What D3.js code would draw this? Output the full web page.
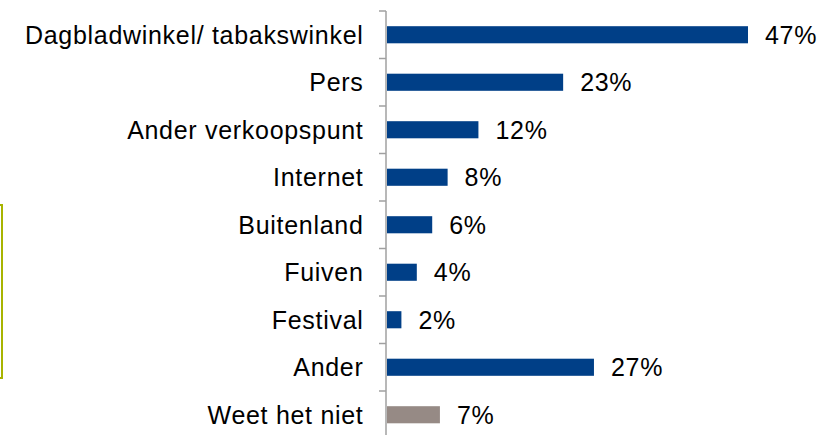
<!DOCTYPE html>
<html>
<head>
<meta charset="utf-8">
<script src="https://cdn.jsdelivr.net/npm/d3@7"></script>
<style>
  body { margin: 0; background: #fff; }
  text { font-family: "Liberation Sans", Arial, sans-serif; }
</style>
</head>
<body>
<div id="chart"></div>
<script>
// categories and values (percent)
var categories = ["Dagbladwinkel/ tabakswinkel", "Pers", "Ander verkoopspunt", "Internet",
                  "Buitenland", "Fuiven", "Festival", "Ander", "Weet het niet"];
var values = [47, 23, 12, 8, 6, 4, 2, 27, 7];
var barColors = ["#003f87", "#003f87", "#003f87", "#003f87", "#003f87",
                 "#003f87", "#003f87", "#003f87", "#968a85"];

var W = 837, H = 435;
var x0 = 386, topY = 11, band = 47.5;

var svg = d3.select("#chart").append("svg")
  .attr("width", W)
  .attr("height", H);

// x scale: percent to pixels
var xScale = d3.scaleLinear()
  .domain([0, 47])
  .range([x0, 748]);

var yScale = d3.scaleBand()
  .domain(categories)
  .range([topY, topY + band * categories.length])
  .paddingInner(0.64)
  .paddingOuter(0.32);

// partial box at the left edge
svg.append("rect")
  .attr("x", -10)
  .attr("y", 205)
  .attr("width", 12)
  .attr("height", 173)
  .attr("fill", "none")
  .attr("stroke", "#a8b400")
  .attr("stroke-width", 2);

// bars
svg.selectAll(".bar")
  .data(values)
  .enter().append("rect")
  .attr("class", "bar")
  .attr("x", xScale(0) + 1)
  .attr("y", function(d, i) { return yScale(categories[i]); })
  .attr("width", function(d) { return xScale(d) - xScale(0) - 1; })
  .attr("height", yScale.bandwidth())
  .attr("fill", function(d, i) { return barColors[i]; });

// value labels
svg.selectAll(".val")
  .data(values)
  .enter().append("text")
  .attr("class", "val")
  .attr("x", function(d) { return xScale(d) + 17; })
  .attr("y", function(d, i) { return yScale(categories[i]) + yScale.bandwidth() / 2; })
  .attr("dy", "0.36em")
  .style("font-size", "25px")
  .style("letter-spacing", "0.7px")
  .style("fill", "#000")
  .text(function(d) { return d + "%"; });

// y axis with ticks between categories
var axis = svg.append("g");
axis.append("line")
  .attr("x1", x0).attr("x2", x0)
  .attr("y1", topY).attr("y2", H)
  .attr("stroke", "#a0a0a0")
  .attr("stroke-width", 1.5);

axis.selectAll(".tick")
  .data(d3.range(categories.length))
  .enter().append("line")
  .attr("x1", x0 - 7).attr("x2", x0)
  .attr("y1", function(i) { return topY + band * i; })
  .attr("y2", function(i) { return topY + band * i; })
  .attr("stroke", "#a0a0a0")
  .attr("stroke-width", 1.5);

// category labels
svg.selectAll(".cat")
  .data(categories)
  .enter().append("text")
  .attr("class", "cat")
  .attr("x", 363.5)
  .attr("y", function(d) { return yScale(d) + yScale.bandwidth() / 2; })
  .attr("dy", "0.36em")
  .style("text-anchor", "end")
  .style("font-size", "25px")
  .style("letter-spacing", "0.7px")
  .style("fill", "#000")
  .text(function(d) { return d; });
</script>
</body>
</html>
